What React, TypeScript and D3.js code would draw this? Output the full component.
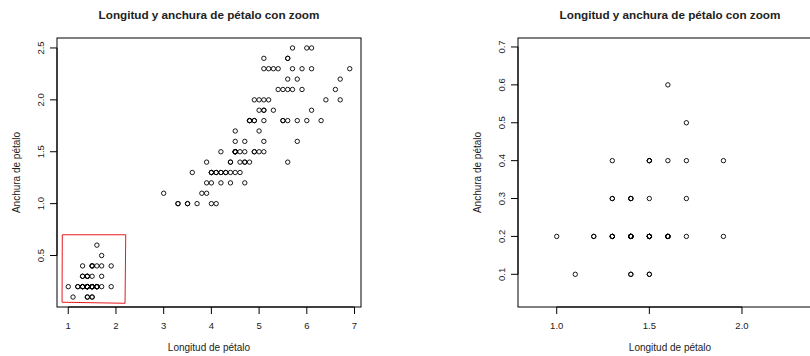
import React from "react";
import * as d3 from "d3";

const petalLength = [
  1.4,1.4,1.3,1.5,1.4,1.7,1.4,1.5,1.4,1.5,1.5,1.6,1.4,1.1,1.2,1.5,1.3,1.4,1.7,1.5,1.7,1.5,1.0,1.7,1.9,1.6,1.6,1.5,1.4,1.6,1.6,1.5,1.5,1.4,1.5,1.2,1.3,1.4,1.3,1.5,1.3,1.3,1.3,1.6,1.9,1.4,1.6,1.4,1.5,1.4,
  4.7,4.5,4.9,4.0,4.6,4.5,4.7,3.3,4.6,3.9,3.5,4.2,4.0,4.7,3.6,4.4,4.5,4.1,4.5,3.9,4.8,4.0,4.9,4.7,4.3,4.4,4.8,5.0,4.5,3.5,3.8,3.7,3.9,5.1,4.5,4.5,4.7,4.4,4.1,4.0,4.4,4.6,4.0,3.3,4.2,4.2,4.2,4.3,3.0,4.1,
  6.0,5.1,5.9,5.6,5.8,6.6,4.5,6.3,5.8,6.1,5.1,5.3,5.5,5.0,5.1,5.3,5.5,6.7,6.9,5.0,5.7,4.9,6.7,4.9,5.7,6.0,4.8,4.9,5.6,5.8,6.1,6.4,5.6,5.1,5.6,6.1,5.6,5.5,4.8,5.4,5.6,5.1,5.1,5.9,5.7,5.2,5.0,5.2,5.4,5.1,
];
const petalWidth = [
  0.2,0.2,0.2,0.2,0.2,0.4,0.3,0.2,0.2,0.1,0.2,0.2,0.1,0.1,0.2,0.4,0.4,0.3,0.3,0.3,0.2,0.4,0.2,0.5,0.2,0.2,0.4,0.2,0.2,0.2,0.2,0.4,0.1,0.2,0.2,0.2,0.2,0.1,0.2,0.2,0.3,0.3,0.2,0.6,0.4,0.3,0.2,0.2,0.2,0.2,
  1.4,1.5,1.5,1.3,1.5,1.3,1.6,1.0,1.3,1.4,1.0,1.5,1.0,1.4,1.3,1.4,1.5,1.0,1.5,1.1,1.8,1.3,1.5,1.2,1.3,1.4,1.4,1.7,1.5,1.0,1.1,1.0,1.2,1.6,1.5,1.6,1.5,1.3,1.3,1.3,1.2,1.4,1.2,1.0,1.3,1.2,1.3,1.3,1.1,1.3,
  2.5,1.9,2.1,1.8,2.2,2.1,1.7,1.8,1.8,2.5,2.0,1.9,2.1,2.0,2.4,2.3,1.8,2.2,2.3,1.5,2.3,2.0,2.0,1.8,2.1,1.8,1.8,1.8,2.1,1.6,1.9,2.0,2.2,1.5,1.4,2.3,2.4,1.8,1.8,2.1,2.4,2.3,1.9,2.3,2.5,2.3,1.9,2.0,2.3,1.8,
];

const title = "Longitud y anchura de pétalo con zoom";
const xLabel = "Longitud de pétalo";
const yLabel = "Anchura de pétalo";

const leftXTicks = [1, 2, 3, 4, 5, 6, 7];
const leftYTicks = [0.5, 1.0, 1.5, 2.0, 2.5];
const rightXTicks = [1.0, 1.5, 2.0];
const rightYTicks = [0.1, 0.2, 0.3, 0.4, 0.5, 0.6, 0.7];

// zoom region (selected rectangle) corners in data units
const zoomRectX = [0.875, 2.205, 2.19, 0.87];
const zoomRectY = [0.70, 0.70, 0.04, 0.05];

const FONT = "'Liberation Sans', Arial, Helvetica, sans-serif";
const TXT = "#222";

type PanelProps = {
  left: number; right: number; top: number; bottom: number;
  xDomain: [number, number]; yDomain: [number, number];
  xTicks: number[]; yTicks: number[];
  xFmt: (v: number) => string; yFmt: (v: number) => string;
  showRect: boolean; clipId: string;
  titleX: number;
};

function Panel(p: PanelProps) {
  const x = d3.scaleLinear().domain(p.xDomain).range([p.left, p.right]);
  const y = d3.scaleLinear().domain(p.yDomain).range([p.bottom, p.top]);
  const tick = 7;
  const cx = p.titleX;
  const cy = (p.top + p.bottom) / 2;
  const rectPts = zoomRectX.map((v, i) => [x(v), y(zoomRectY[i])] as [number, number]);
  const line = d3.line();
  return (
    <g>
      <defs>
        <clipPath id={p.clipId}>
          <rect x={p.left} y={p.top} width={p.right - p.left} height={p.bottom - p.top} />
        </clipPath>
      </defs>
      <text x={cx} y={19} textAnchor="middle" fontFamily={FONT} fontWeight="bold" fontSize={11.7} fill={TXT}>{title}</text>
      <rect x={p.left} y={p.top} width={p.right - p.left} height={p.bottom - p.top} fill="none" stroke="#000" strokeWidth={1} />
      {/* x axis */}
      <line x1={x(p.xTicks[0])} x2={x(p.xTicks[p.xTicks.length - 1])} y1={p.bottom} y2={p.bottom} stroke="#000" />
      {p.xTicks.map((t) => (
        <g key={"xt" + t}>
          <line x1={x(t)} x2={x(t)} y1={p.bottom} y2={p.bottom + tick} stroke="#000" />
          <text x={x(t)} y={329} textAnchor="middle" fontFamily={FONT} fontSize={9.5} fill={TXT}>{p.xFmt(t)}</text>
        </g>
      ))}
      {/* y axis */}
      <line x1={p.left} x2={p.left} y1={y(p.yTicks[0])} y2={y(p.yTicks[p.yTicks.length - 1])} stroke="#000" />
      {p.yTicks.map((t) => (
        <g key={"yt" + t}>
          <line x1={p.left} x2={p.left - tick} y1={y(t)} y2={y(t)} stroke="#000" />
          <text transform={`translate(${p.left - 13.5},${y(t)}) rotate(-90)`} textAnchor="middle" fontFamily={FONT} fontSize={9.5} fill={TXT}>{p.yFmt(t)}</text>
        </g>
      ))}
      <text x={cx} y={351} textAnchor="middle" fontFamily={FONT} fontSize={10} fill={TXT}>{xLabel}</text>
      <text transform={`translate(${p.left - 37.5},${cy}) rotate(-90)`} textAnchor="middle" fontFamily={FONT} fontSize={10} fill={TXT}>{yLabel}</text>
      <g clipPath={`url(#${p.clipId})`}>
        {petalLength.map((v, i) => (
          <circle key={i} cx={x(v)} cy={y(petalWidth[i])} r={2.2} fill="none" stroke="#000" strokeWidth={0.9} />
        ))}
      </g>
      {p.showRect && (
        <path d={line([...rectPts, rectPts[0]]) || ""} fill="none" stroke="#e8191e" strokeWidth={1} />
      )}
    </g>
  );
}

export default function App() {
  return (
    <svg width={810} height={356} style={{ position: "absolute", left: 0, top: 0, background: "#fff" }}>
      <rect width={810} height={356} fill="#fff" />
      <Panel
        left={57} right={361} top={38} bottom={307}
        xDomain={[0.764, 7.136]} yDomain={[0.004, 2.596]}
        xTicks={leftXTicks} yTicks={leftYTicks}
        xFmt={(v) => d3.format("d")(v)} yFmt={(v) => d3.format(".1f")(v)}
        showRect={true} clipId="c1" titleX={209}
      />
      <Panel
        left={518} right={822} top={38} bottom={307}
        xDomain={[0.791, 2.432]} yDomain={[0.0137, 0.7237]}
        xTicks={rightXTicks} yTicks={rightYTicks}
        xFmt={(v) => d3.format(".1f")(v)} yFmt={(v) => d3.format(".1f")(v)}
        showRect={false} clipId="c2" titleX={670}
      />
    </svg>
  );
}
